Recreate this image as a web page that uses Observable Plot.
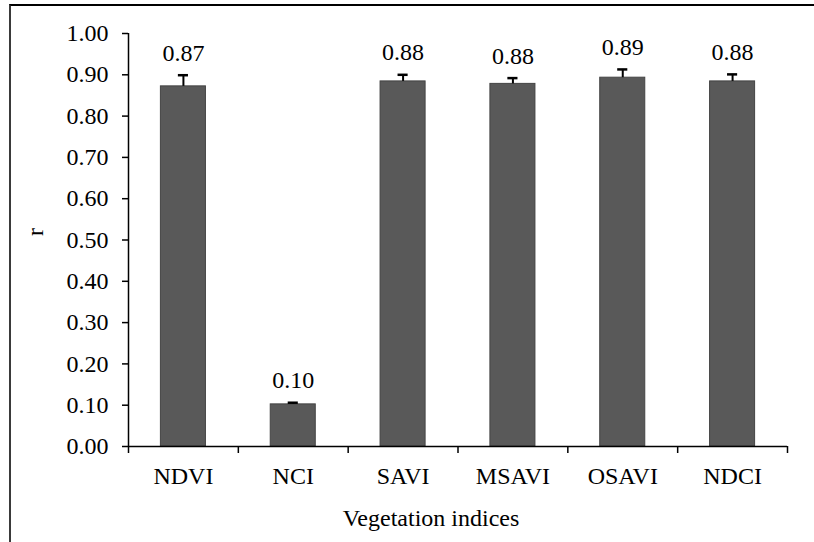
<!DOCTYPE html>
<html>
<head>
<meta charset="utf-8">
<script src="https://cdn.jsdelivr.net/npm/d3@7"></script>
<script src="https://cdn.jsdelivr.net/npm/@observablehq/plot@0.6"></script>
<style>
  body { margin: 0; background: #fff; }
  #chart { position: relative; width: 814px; height: 542px; overflow: hidden; }
  #chart .border {
    position: absolute; left: 9px; top: 4px; right: -10px; bottom: -10px;
    border-top: 2px solid #000; border-left: 2px solid #3a3a3a; pointer-events: none;
  }
  #chart svg { display: block; }
</style>
</head>
<body>
<div id="chart"><div class="border"></div></div>
<script>
// Correlation coefficient (r) for each vegetation index, with its error
const indices = ["NDVI", "NCI", "SAVI", "MSAVI", "OSAVI", "NDCI"];
const rValues = [0.872, 0.102, 0.884, 0.878, 0.893, 0.884];
const errValues = [0.027, 0.004, 0.016, 0.014, 0.020, 0.017];
const yTicks = [0, 0.1, 0.2, 0.3, 0.4, 0.5, 0.6, 0.7, 0.8, 0.9, 1.0];

const fmt = d3.format(".2f");
const rows = indices.map((name, i) => ({name, pos: i + 0.5, r: rValues[i], err: errValues[i]}));
const boundaries = indices.map((_, i) => i).concat(indices.length);

const barHalf = 0.205;   // half bar width, in category units
const capHalf = 0.046;   // half error-cap width
const font = "'Liberation Serif', 'Times New Roman', serif";

const chart = Plot.plot({
  width: 814,
  height: 542,
  marginLeft: 128,
  marginRight: 27,
  marginTop: 33,
  marginBottom: 96,
  x: {domain: [0, indices.length], label: null},
  y: {domain: [0, 1], label: null},
  style: {fontFamily: font, fontSize: "24px", color: "#000", background: "transparent"},
  marks: [
    Plot.rectY(rows, {
      x1: d => d.pos - barHalf, x2: d => d.pos + barHalf, y1: 0, y2: "r",
      fill: "#595959", stroke: "#444", strokeWidth: 1
    }),
    Plot.ruleX(rows, {x: "pos", y1: "r", y2: d => d.r + d.err, stroke: "#000", strokeWidth: 2}),
    Plot.ruleY(rows, {
      y: d => d.r + d.err, x1: d => d.pos - capHalf, x2: d => d.pos + capHalf,
      stroke: "#000", strokeWidth: 2.5
    }),
    Plot.text(rows, {
      x: "pos", y: d => d.r + d.err, text: d => fmt(d.r),
      dy: -22, fontSize: 24, fill: "#000"
    }),
    Plot.ruleX([0], {stroke: "#000", strokeWidth: 1.5}),
    Plot.ruleY([0], {stroke: "#000", strokeWidth: 1.5}),
    Plot.axisY({
      ticks: yTicks, tickFormat: fmt, tickSize: 6, tickPadding: 14,
      fontSize: 24, label: null, strokeWidth: 1.5
    }),
    Plot.axisX({
      ticks: boundaries, tickFormat: () => "", tickSize: 7, label: null, strokeWidth: 1.5
    }),
    Plot.axisX({
      ticks: rows.map(d => d.pos), tickFormat: (d, i) => indices[i],
      tickSize: 0, tickPadding: 20, fontSize: 24, label: null
    }),
    Plot.text(["Vegetation indices"], {frameAnchor: "bottom", dx: -27, dy: 79, fontSize: 24, fill: "#000"}),
    Plot.text(["r"], {frameAnchor: "left", dx: -93, dy: -4, rotate: -90, fontSize: 24, fill: "#000"})
  ]
});

document.getElementById("chart").appendChild(chart);
</script>
</body>
</html>
